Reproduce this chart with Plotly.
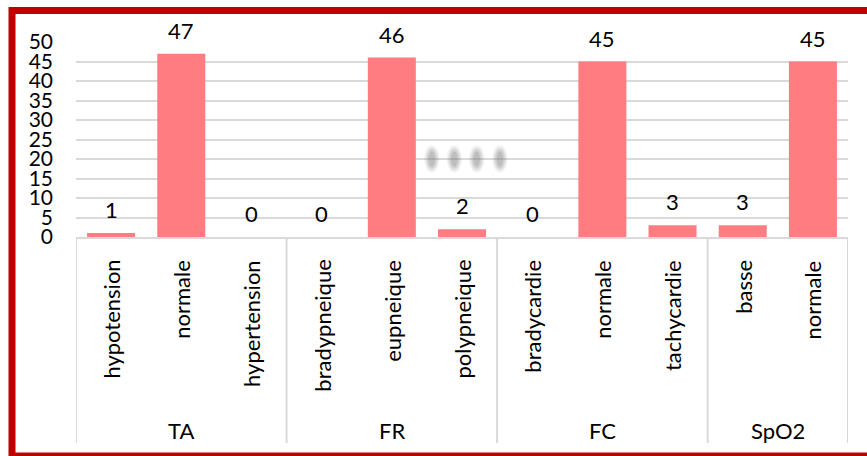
import plotly.graph_objects as go

# Vital-sign categories, grouped by measure
groups = ["TA", "TA", "TA", "FR", "FR", "FR", "FC", "FC", "FC", "SpO2", "SpO2"]
categories = ["hypotension", "normale", "hypertension",
              "bradypneique", "eupneique", "polypneique",
              "bradycardie", "normale", "tachycardie",
              "basse", "normale"]
counts = [1, 47, 0, 0, 46, 2, 0, 45, 3, 3, 45]
y_ticks = [0, 5, 10, 15, 20, 25, 30, 35, 40, 45, 50]

group_names = ["TA", "FR", "FC", "SpO2"]

FONT = "Lato, 'Open Sans', sans-serif"
BAR = "#FF7C80"
GRID = "#D9D9D9"
FRAME = "#C00000"

W, H = 867, 456
ML, MR, MT, MB = 76, 19, 42, 219
PW, PH = W - ML - MR, H - MT - MB

# unique keys so repeated labels ("normale") get their own slot
keys = [f"{g}:{c}" for g, c in zip(groups, categories)]

fig = go.Figure(go.Bar(
    x=keys, y=counts, marker_color=BAR, marker_line_width=0,
    hoverinfo="skip",
))

annotations = []
# value labels above bars
for k, v in zip(keys, counts):
    annotations.append(dict(
        x=k, y=v, xref="x", yref="y", text=str(v), showarrow=False,
        yanchor="bottom", yshift=8, font=dict(family=FONT, size=22, color="#000"),
    ))
# rotated category labels under the axis
for k, c in zip(keys, categories):
    annotations.append(dict(
        x=k, y=-21 / PH, xref="x", yref="paper", text=c, showarrow=False,
        textangle=-90, yanchor="top", xanchor="center",
        font=dict(family=FONT, size=22, color="#000"),
    ))

# group labels and separators
shapes = []
idx = 0
bounds = [-0.5]
for g in group_names:
    n = groups.count(g)
    centre = idx + (n - 1) / 2
    annotations.append(dict(
        x=centre, y=-193 / PH, xref="x", yref="paper", text=g, showarrow=False,
        yanchor="middle", xanchor="center",
        font=dict(family=FONT, size=22, color="#000"),
    ))
    idx += n
    bounds.append(idx - 0.5)

for b in bounds:
    shapes.append(dict(
        type="line", xref="x", yref="paper", x0=b, x1=b, y0=0, y1=-206 / PH,
        line=dict(color=GRID, width=2),
    ))

# soft grey smudges sitting on the 20 gridline
for cx in [4.57, 4.89, 5.21, 5.54]:
    for dx, dy, op in [(0.11, 3.5, 0.09), (0.09, 3.0, 0.13),
                       (0.07, 2.5, 0.17), (0.045, 1.9, 0.22)]:
        shapes.append(dict(
            type="circle", xref="x", yref="y",
            x0=cx - dx, x1=cx + dx, y0=20 - dy, y1=20 + dy,
            fillcolor="#7a7a7a", opacity=op, line=dict(width=0), layer="above",
        ))

# dark red frame around the chart
def px_x(p):
    return (p - ML) / PW

def px_y(p):
    return (H - MB - p) / PH

shapes.append(dict(
    type="rect", xref="paper", yref="paper",
    x0=px_x(12), x1=px_x(890), y0=px_y(10.5), y1=px_y(456),
    line=dict(color=FRAME, width=7), fillcolor="rgba(0,0,0,0)",
))

fig.update_layout(
    width=W, height=H,
    margin=dict(l=ML, r=MR, t=MT, b=MB),
    paper_bgcolor="white", plot_bgcolor="white",
    bargap=0.316, showlegend=False,
    annotations=annotations, shapes=shapes,
    font=dict(family=FONT, size=22, color="#000"),
    xaxis=dict(
        showticklabels=False, showgrid=False, zeroline=False,
        showline=True, linecolor=GRID, linewidth=2, ticks="",
        range=[-0.5, len(keys) - 0.5],
    ),
    yaxis=dict(
        range=[0, 50], tickvals=y_ticks, showgrid=True, gridcolor=GRID,
        gridwidth=2, zeroline=False, showline=False, ticks="",
        ticklabelstandoff=22, tickfont=dict(family=FONT, size=21, color="#000"),
    ),
)

fig.write_html("out.html", config={"displayModeBar": False})
